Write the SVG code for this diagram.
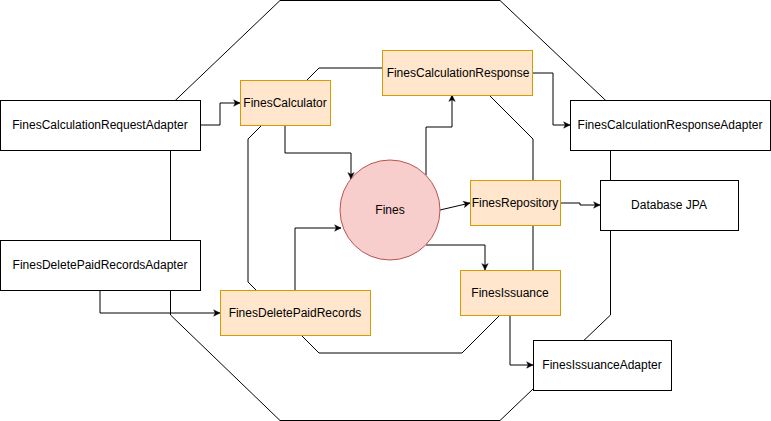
<svg xmlns="http://www.w3.org/2000/svg" width="771" height="421" viewBox="0 0 771 421">
<style>
.oct{fill:none;stroke:#000;stroke-width:1}
.conn{fill:none;stroke:#000;stroke-width:1;marker-end:url(#arr)}
.plain{fill:none;stroke:#000;stroke-width:1}
.adapter{fill:#fff;stroke:#000;stroke-width:1}
.core{fill:#ffe6cc;stroke:#d79b00;stroke-width:1}
.ent{fill:#f8cecc;stroke:#b85450;stroke-width:1}
text{font-family:"Liberation Sans",Arial,sans-serif;font-size:12px;fill:#000;text-anchor:middle}
</style>
<defs>
<marker id="arr" viewBox="0 0 10 10" refX="9" refY="5" markerWidth="8" markerHeight="8" markerUnits="userSpaceOnUse" orient="auto">
<path d="M1,1 L9,5 L1,9 L3,5 Z" fill="#000" stroke="#000" stroke-width="0.5"/>
</marker>
</defs>
<g id="layers">
<polygon class="oct" points="280,0.5 500,0.5 610.5,105 610.5,315 500,420.5 280,420.5 170.5,315 170.5,105"/>
<polygon class="oct" points="319,68 462,68 533,139 533,282 462,353 319,353 248,282 248,139"/>
</g>
<g id="connectors">
<path class="conn" d="M200,125 H220 V103 H240"/>
<path class="conn" d="M285,125 V153 H351 V179"/>
<path class="conn" d="M426,175 V127 H452 V95"/>
<path class="conn" d="M533,73 H553 V125 H570"/>
<path class="conn" d="M440,210 L470,203"/>
<path class="conn" d="M560,203 H580 V205 H600"/>
<path class="conn" d="M426,245 H485 V270"/>
<path class="conn" d="M510,315 V365 H533"/>
<path class="conn" d="M100,290 V313 H220"/>
<path class="conn" d="M295,290 V228 H341"/>
</g>
<g id="FinesCalculationRequestAdapter">
<rect class="adapter" x="0.5" y="100.5" width="200" height="50"/>
<text x="100" y="129">FinesCalculationRequestAdapter</text>
</g>
<g id="FinesDeletePaidRecordsAdapter">
<rect class="adapter" x="0.5" y="240.5" width="200" height="50"/>
<text x="100" y="269">FinesDeletePaidRecordsAdapter</text>
</g>
<g id="FinesCalculator">
<rect class="core" x="240.5" y="80.5" width="90" height="45"/>
<text x="285" y="107">FinesCalculator</text>
</g>
<g id="FinesCalculationResponse">
<rect class="core" x="382.5" y="50.5" width="150" height="45"/>
<text x="458" y="77">FinesCalculationResponse</text>
</g>
<g id="Fines">
<circle class="ent" cx="390" cy="210" r="50"/>
<text x="390" y="214">Fines</text>
</g>
<g id="FinesRepository">
<rect class="core" x="470.5" y="180.5" width="90" height="45"/>
<text x="515" y="207">FinesRepository</text>
</g>
<g id="FinesIssuance">
<rect class="core" x="460.5" y="270.5" width="100" height="45"/>
<text x="510" y="297">FinesIssuance</text>
</g>
<g id="FinesDeletePaidRecords">
<rect class="core" x="220.5" y="290.5" width="150" height="45"/>
<text x="295" y="317">FinesDeletePaidRecords</text>
</g>
<g id="FinesCalculationResponseAdapter">
<rect class="adapter" x="570.5" y="100.5" width="200" height="50"/>
<text x="670" y="129">FinesCalculationResponseAdapter</text>
</g>
<g id="DatabaseJPA">
<rect class="adapter" x="600.5" y="180.5" width="138" height="50"/>
<text x="669" y="209">Database JPA</text>
</g>
<g id="FinesIssuanceAdapter">
<rect class="adapter" x="533.5" y="340.5" width="138" height="50"/>
<text x="602" y="369">FinesIssuanceAdapter</text>
</g>
</svg>
